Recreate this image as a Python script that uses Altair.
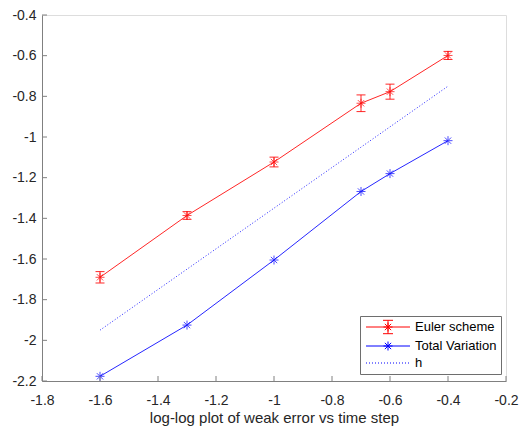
import altair as alt
import pandas as pd

# ---- data ----
x_vals = [-1.6, -1.3, -1.0, -0.7, -0.6, -0.4]
euler_vals = [-1.690, -1.386, -1.123, -0.834, -0.777, -0.599]
euler_err = [0.028, 0.019, 0.024, 0.041, 0.037, 0.020]
tv_vals = [-2.177, -1.925, -1.605, -1.268, -1.180, -1.018]
h_vals = [-1.95, -1.65, -1.35, -1.05, -0.95, -0.75]
series_names = ["Euler scheme", "Total Variation", "h"]
x_ticks = [-1.8, -1.6, -1.4, -1.2, -1.0, -0.8, -0.6, -0.4, -0.2]
y_ticks = [-2.2, -2.0, -1.8, -1.6, -1.4, -1.2, -1.0, -0.8, -0.6, -0.4]
x_title = "log-log plot of weak error vs time step"

# ---- styles ----
RED = "#ff0000"
BLUE = "#0000ff"
AXIS_GREY = "#808080"
TEXT = "#262626"
FONT = "Liberation Sans"
W, H = 464, 366

euler_df = pd.DataFrame({
    "x": x_vals, "y": euler_vals,
    "lo": [v - e for v, e in zip(euler_vals, euler_err)],
    "hi": [v + e for v, e in zip(euler_vals, euler_err)],
    "series": series_names[0],
})
tv_df = pd.DataFrame({"x": x_vals, "y": tv_vals, "series": series_names[1]})
h_df = pd.DataFrame({"x": x_vals, "y": h_vals, "series": series_names[2]})
all_df = pd.concat([euler_df[["x", "y", "series"]], tv_df, h_df], ignore_index=True)
xt_df = pd.DataFrame({"x": x_ticks})
yt_df = pd.DataFrame({"y": y_ticks})

xs = alt.Scale(domain=[-1.8, -0.2], nice=False, zero=False)
ys = alt.Scale(domain=[-2.2, -0.4], nice=False, zero=False)

xaxis = alt.Axis(values=x_ticks, labelExpr="'' + datum.value", ticks=False,
                 grid=False, domainColor=AXIS_GREY, labelFont=FONT, labelFontSize=14,
                 labelColor=TEXT, labelPadding=12, labelFlush=False, labelOverlap=False,
                 title=x_title, titleFont=FONT, titleFontSize=15, titleFontWeight="normal",
                 titleColor=TEXT, titlePadding=3)
yaxis = alt.Axis(values=y_ticks, labelExpr="'' + datum.value", ticks=False,
                 grid=False, domainColor=AXIS_GREY, labelFont=FONT, labelFontSize=14,
                 labelColor=TEXT, labelPadding=6, labelFlush=False, labelOverlap=False,
                 title=None)


def X(field="x"):
    return alt.X(f"{field}:Q", scale=xs, axis=xaxis)


def Y(field="y"):
    return alt.Y(f"{field}:Q", scale=ys, axis=yaxis)


# marker paths (style only)
STAR = "M-1,0L1,0M0,-1L0,1M-0.7,-0.7L0.7,0.7M-0.7,0.7L0.7,-0.7"
LS = 6.5  # legend path scale (px per unit)
half = 22 / LS
sr = 4.5 / LS
sd = sr * 0.7
star_leg = (f"M{-sr},0L{sr},0M0,{-sr}L0,{sr}M{-sd},{-sd}L{sd},{sd}M{-sd},{sd}L{sd},{-sd}")
eb = 6.7 / LS
cw = 5 / LS
p_euler = (f"M{-half},0L{half},0" + star_leg +
           f"M0,{-eb}L0,{eb}M{-cw},{-eb}L{cw},{-eb}M{-cw},{eb}L{cw},{eb}")
p_tv = f"M{-half},0L{half},0" + star_leg
dot = 1 / LS
period = 3 / LS
p_h = "".join(f"M{-half + i * period:.3f},0L{-half + i * period + dot:.3f},0" for i in range(15))

line_e = alt.Chart(euler_df).mark_line(color=RED, strokeWidth=1, opacity=0.85).encode(x=X(), y=Y())
line_t = alt.Chart(tv_df).mark_line(color=BLUE, strokeWidth=1, opacity=0.85).encode(x=X(), y=Y())
line_h = alt.Chart(h_df).mark_line(color=BLUE, strokeWidth=1, opacity=0.85,
                                   strokeDash=[1, 2]).encode(x=X(), y=Y())
err = alt.Chart(euler_df).mark_rule(color=RED, strokeWidth=1, opacity=0.85).encode(
    x=X(), y=Y("lo"), y2="hi:Q")
cap_lo = alt.Chart(euler_df).mark_tick(color=RED, orient="horizontal", size=9, thickness=1,
                                       opacity=0.85).encode(x=X(), y=Y("lo"))
cap_hi = alt.Chart(euler_df).mark_tick(color=RED, orient="horizontal", size=9, thickness=1,
                                       opacity=0.85).encode(x=X(), y=Y("hi"))
star_e = alt.Chart(euler_df).mark_point(shape=STAR, size=81, color=RED, filled=False,
                                        strokeWidth=1).encode(x=X(), y=Y())
star_t = alt.Chart(tv_df).mark_point(shape=STAR, size=81, color=BLUE, filled=False,
                                     strokeWidth=1).encode(x=X(), y=Y())

leg = alt.Legend(title=None, orient="none", legendX=318, legendY=301, fillColor="white",
                 strokeColor="#6e6e6e", padding=4, symbolSize=LS * LS * 4,
                 symbolStrokeWidth=1, symbolOpacity=1, symbolOffset=17, labelOffset=20,
                 labelFont=FONT, labelFontSize=13, labelColor="#000000", rowPadding=3,
                 cornerRadius=0, symbolFillColor="transparent")
legend_layer = alt.Chart(all_df).mark_point(opacity=0, filled=False).encode(
    x=X(), y=Y(),
    color=alt.Color("series:N", scale=alt.Scale(domain=series_names, range=[RED, BLUE, BLUE]),
                    legend=leg),
    shape=alt.Shape("series:N", scale=alt.Scale(domain=series_names, range=[p_euler, p_tv, p_h]),
                    legend=leg),
)

# inward axis ticks
xt = alt.Chart(xt_df).mark_rule(color=AXIS_GREY, strokeWidth=1).encode(
    x=X(), y=alt.value(H), y2=alt.value(H - 5))
yt = alt.Chart(yt_df).mark_rule(color=AXIS_GREY, strokeWidth=1).encode(
    y=Y(), x=alt.value(0), x2=alt.value(5))

chart = alt.layer(
    line_e, line_t, line_h, err, cap_lo, cap_hi, star_e, star_t, legend_layer, xt, yt
).properties(
    width=W, height=H,
    autosize=alt.AutoSizeParams(type="none"),
    padding={"left": 34, "top": 7, "right": 13, "bottom": 45},
).configure_view(stroke=None).configure(background="white")

chart.save("out.html", embed_options={"renderer": "svg", "actions": False})
